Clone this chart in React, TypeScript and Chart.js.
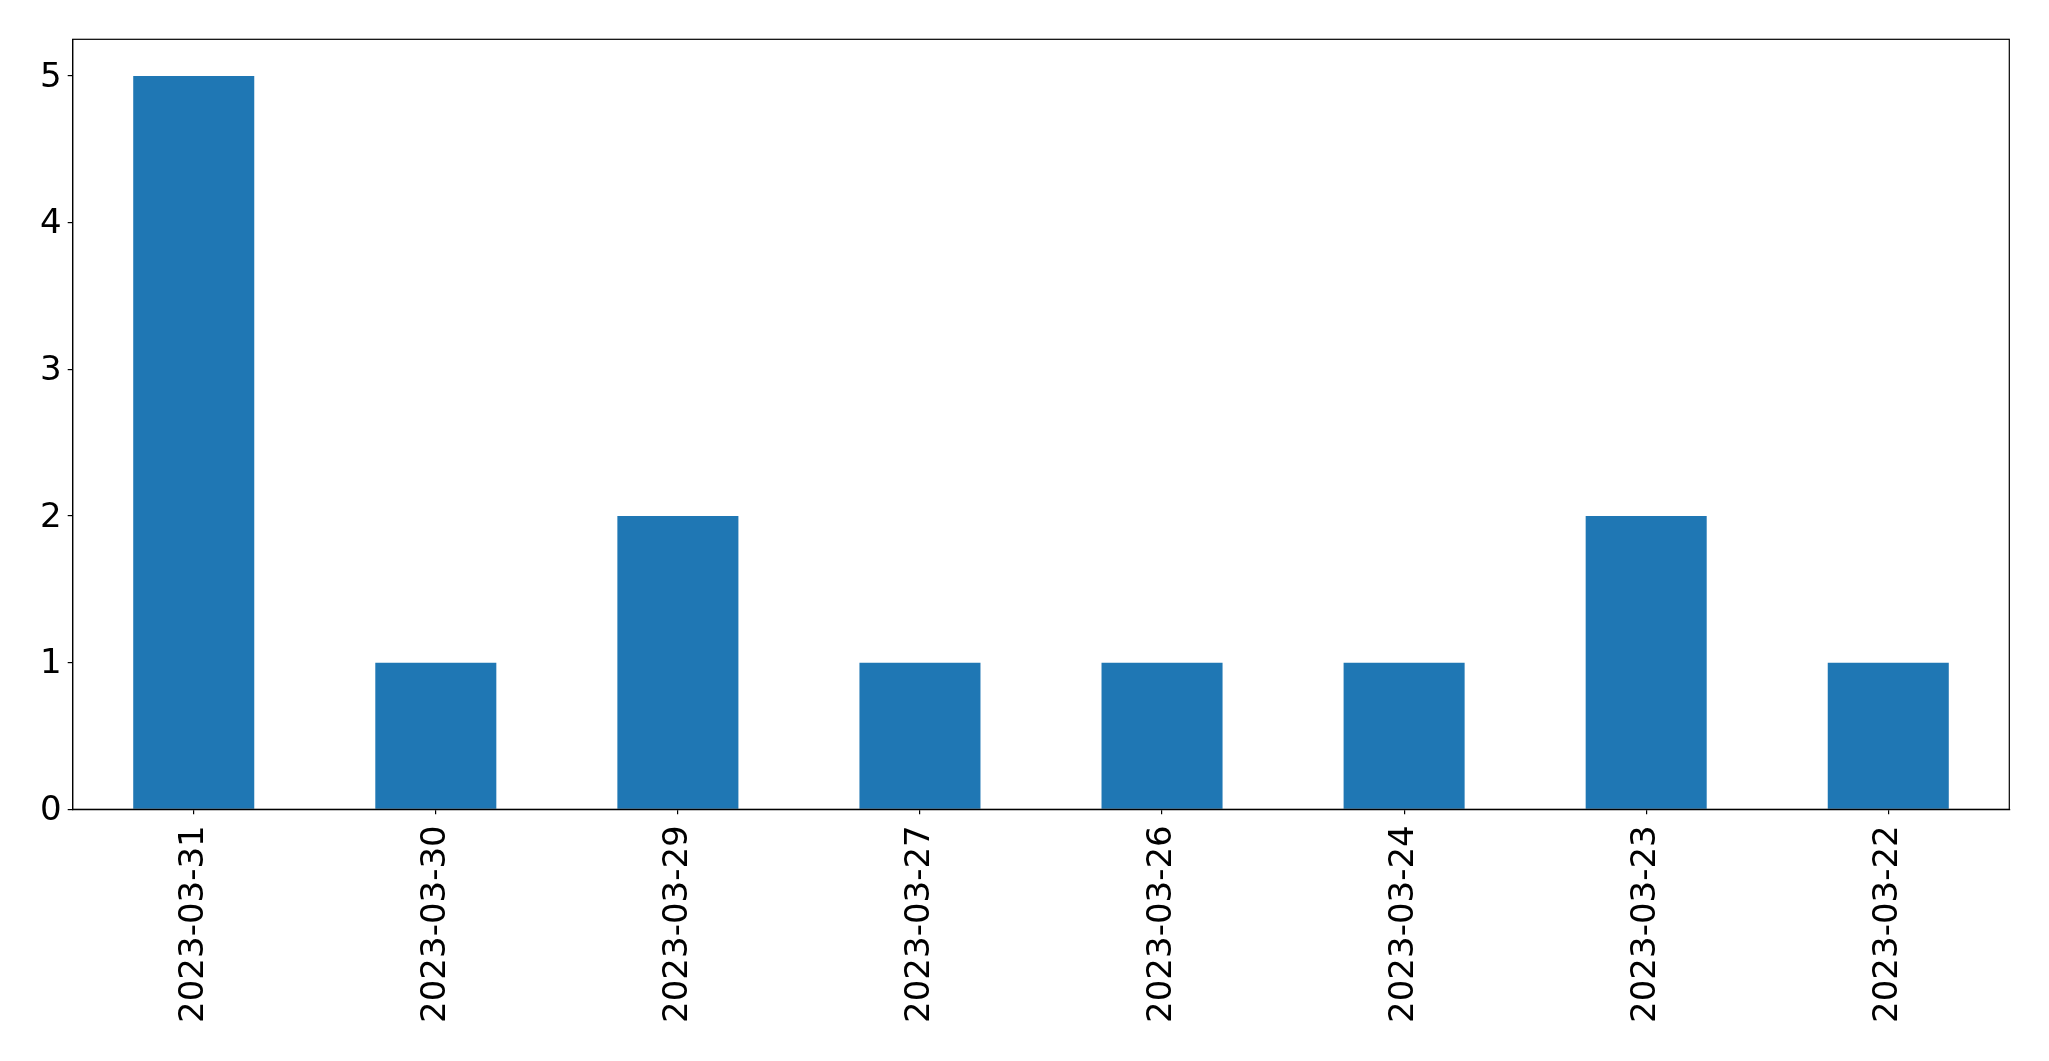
import React, { useEffect, useRef } from "react";
import { Chart, registerables } from "chart.js";

Chart.register(...registerables);

const categories = [
  "2023-03-31",
  "2023-03-30",
  "2023-03-29",
  "2023-03-27",
  "2023-03-26",
  "2023-03-24",
  "2023-03-23",
  "2023-03-22",
];
const counts = [5, 1, 2, 1, 1, 1, 2, 1];
const yTicks = [0, 1, 2, 3, 4, 5];

const W = 2049;
const H = 1061;
const FONT = "'DejaVu Sans', sans-serif";

const framePlugin = {
  id: "frame",
  afterDraw(chart: any) {
    const { ctx, chartArea } = chart;
    ctx.save();
    ctx.strokeStyle = "#000";
    ctx.lineWidth = 1.2;
    ctx.strokeRect(chartArea.left, chartArea.top, chartArea.right - chartArea.left, chartArea.bottom - chartArea.top);
    ctx.restore();
  },
};

export default function App() {
  const ref = useRef<HTMLCanvasElement>(null);
  useEffect(() => {
    const chart = new Chart(ref.current!, {
      type: "bar",
      data: {
        labels: categories,
        datasets: [
          {
            data: counts,
            backgroundColor: "#1f77b4",
            borderWidth: 0,
            barPercentage: 0.5,
            categoryPercentage: 1,
          },
        ],
      },
      options: {
        responsive: false,
        animation: false,
        devicePixelRatio: 1,
        layout: { padding: { left: 0, top: 39.3, right: 39.7, bottom: 0 } },
        plugins: { legend: { display: false }, tooltip: { enabled: false } },
        scales: {
          x: {
            offset: true,
            border: { display: true, color: "#000", width: 1.2 },
            grid: { display: true, offset: false, drawOnChartArea: false, drawTicks: true, tickLength: 5, color: "#000", tickColor: "#000", lineWidth: 1.2 },
            ticks: {
              minRotation: 90,
              maxRotation: 90,
              autoSkip: false,
              padding: 11,
              color: "#000",
              font: { family: FONT, size: 34 },
            },
            afterFit(scale: any) {
              scale.height = 251.7;
            },
          },
          y: {
            min: 0,
            max: 5.25,
            border: { display: true, color: "#000", width: 1.2 },
            grid: { display: true, drawOnChartArea: false, drawTicks: true, tickLength: 5, color: "#000", tickColor: "#000", lineWidth: 1.2 },
            afterBuildTicks(scale: any) {
              scale.ticks = yTicks.map((v) => ({ value: v }));
            },
            ticks: {
              padding: 6,
              labelOffset: 2,
              color: "#000",
              font: { family: FONT, size: 34 },
            },
            afterFit(scale: any) {
              scale.width = 72.7;
            },
          },
        },
      },
      plugins: [framePlugin],
    });
    return () => chart.destroy();
  }, []);
  return (
    <div style={{ position: "fixed", left: 0, top: 0, width: W, height: H, background: "#fff" }}>
      <canvas ref={ref} width={W} height={H} style={{ width: W, height: H, display: "block" }} />
    </div>
  );
}
